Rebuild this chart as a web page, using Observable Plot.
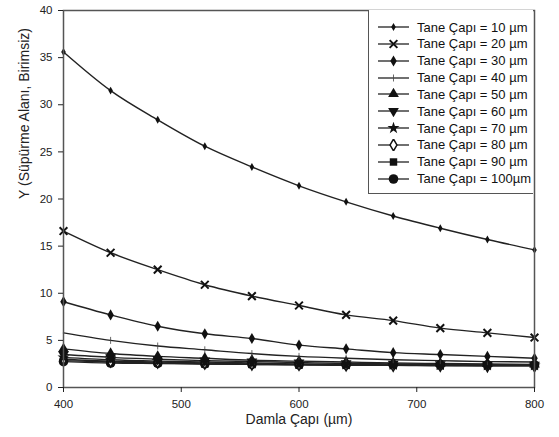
<!DOCTYPE html>
<html><head><meta charset="utf-8">
<script src="https://cdn.jsdelivr.net/npm/d3@7"></script>
<script src="https://cdn.jsdelivr.net/npm/@observablehq/plot@0.6"></script>
<style>
body{margin:0;background:#fff;font-family:"Liberation Sans",Arial,sans-serif;}
#wrap{position:relative;width:559px;height:437px;}
#legend{position:absolute;left:368px;top:10px;width:165px;height:184px;border:1.5px solid #555;border-top:none;border-right:none;background:#fff;box-sizing:border-box;}
.row{position:absolute;left:0;height:14px;display:flex;align-items:center;font-size:13px;color:#111;white-space:nowrap;}
.row svg{margin-left:9px;margin-right:8px;}
</style>
</head><body><div id="wrap"><div id="chart"></div><div id="legend"></div></div>
<script>
const diameters = [400, 440, 480, 520, 560, 600, 640, 680, 720, 760, 800];
const seriesNames = ["10", "20", "30", "40", "50", "60", "70", "80", "90", "100"];
const y10  = [35.6, 31.5, 28.4, 25.6, 23.4, 21.4, 19.7, 18.2, 16.9, 15.7, 14.6];
const y20  = [16.6, 14.3, 12.5, 10.9, 9.7, 8.7, 7.7, 7.1, 6.3, 5.8, 5.3];
const y30  = [9.1, 7.7, 6.5, 5.7, 5.2, 4.5, 4.1, 3.7, 3.5, 3.3, 3.1];
const y40  = [5.8, 5.0, 4.4, 4.0, 3.6, 3.3, 3.1, 2.95, 2.85, 2.75, 2.7];
const y50  = [4.1, 3.6, 3.3, 3.1, 2.9, 2.8, 2.7, 2.6, 2.55, 2.5, 2.45];
const y60  = [3.5, 3.2, 3.0, 2.85, 2.75, 2.65, 2.55, 2.5, 2.45, 2.4, 2.4];
const y70  = [3.2, 2.95, 2.8, 2.7, 2.6, 2.5, 2.45, 2.4, 2.4, 2.35, 2.35];
const y80  = [3.0, 2.8, 2.7, 2.6, 2.5, 2.45, 2.4, 2.35, 2.35, 2.3, 2.3];
const y90  = [2.85, 2.7, 2.6, 2.5, 2.45, 2.4, 2.35, 2.35, 2.3, 2.3, 2.3];
const y100 = [2.75, 2.6, 2.55, 2.5, 2.45, 2.4, 2.4, 2.4, 2.4, 2.4, 2.4];
const yTicks = [0, 5, 10, 15, 20, 25, 30, 35, 40];
const xTicks = [400, 500, 600, 700, 800];
const yLabel = "Y (Süpürme Alanı, Birimsiz)";
const xLabel = "Damla Çapı (µm)";
const allValues = [y10, y20, y30, y40, y50, y60, y70, y80, y90, y100];

const sqrt3 = Math.sqrt(3);
const triangleDown = {draw(ctx, size){const y = -Math.sqrt(size/(sqrt3*3)); ctx.moveTo(0,-y*2); ctx.lineTo(-sqrt3*y, y); ctx.lineTo(sqrt3*y, y); ctx.closePath();}};
const vtick = {draw(ctx, size){const r = Math.sqrt(size/Math.PI); ctx.moveTo(0,-r); ctx.lineTo(0,r);}};

const styles = {
  "10":  {symbol: d3.symbolDiamond, r: 2.4, fill: "#111", stroke: "none", sw: 0},
  "20":  {symbol: d3.symbolTimes, r: 3.6, fill: "none", stroke: "#111", sw: 2},
  "30":  {symbol: d3.symbolDiamond, r: 3.4, fill: "#111", stroke: "none", sw: 0},
  "40":  {symbol: vtick, r: 3.5, fill: "none", stroke: "#444", sw: 0.8},
  "50":  {symbol: d3.symbolTriangle, r: 4, fill: "#111", stroke: "none", sw: 0},
  "60":  {symbol: triangleDown, r: 4, fill: "#111", stroke: "none", sw: 0},
  "70":  {symbol: d3.symbolStar, r: 3.8, fill: "#111", stroke: "none", sw: 0},
  "80":  {symbol: d3.symbolDiamond, r: 3.6, fill: "#fff", stroke: "#111", sw: 1.5},
  "90":  {symbol: d3.symbolSquare, r: 4.2, fill: "#111", stroke: "none", sw: 0},
  "100": {symbol: d3.symbolCircle, r: 4.8, fill: "#111", stroke: "none", sw: 0}
};

const data = [];
seriesNames.forEach((s, i) => diameters.forEach((d, j) => data.push({series: s, x: d, y: allValues[i][j]})));

const dotMarks = seriesNames.slice().reverse().map(s => {
  const st = styles[s];
  return Plot.dot(data.filter(d => d.series === s), {x: "x", y: "y", symbol: () => st.symbol, r: st.r, fill: st.fill, stroke: st.stroke, strokeWidth: st.sw});
});

const chart = Plot.plot({
  width: 559, height: 437,
  marginLeft: 63, marginRight: 25, marginTop: 10, marginBottom: 50,
  style: {fontFamily: "'Liberation Sans', Arial, sans-serif", background: "#fff", color: "#222"},
  x: {domain: [400, 800]},
  y: {domain: [0, 40]},
  symbol: {type: "identity"},
  marks: [
    Plot.line(data, {x: "x", y: "y", z: "series", stroke: "#222", strokeWidth: 1.4, curve: "monotone-x"}),
    ...dotMarks,
    Plot.frame({stroke: "#555", strokeWidth: 1.5}),
    Plot.axisY({ticks: yTicks, tickSize: 5, tickPadding: 6, fontSize: 11.5, label: null}),
    Plot.axisX({ticks: xTicks, tickSize: 5, tickPadding: 7, fontSize: 11.5, label: null}),
    Plot.text([yLabel], {text: d => d, frameAnchor: "left", rotate: -90, dx: -39, fontSize: 14, fill: "#222"}),
    Plot.text([xLabel], {text: d => d, frameAnchor: "bottom", dy: 36, fontSize: 14, fill: "#222"})
  ]
});
document.getElementById("chart").appendChild(chart);

const legend = document.getElementById("legend");
seriesNames.forEach((s, i) => {
  const st = styles[s];
  const row = document.createElement("div");
  row.className = "row";
  row.style.top = (10 + i * 16.85) + "px";
  const size = Math.PI * st.r * st.r;
  const path = d3.symbol(st.symbol, size)();
  row.innerHTML = `<svg width="31" height="12"><line x1="0" x2="31" y1="6" y2="6" stroke="#222" stroke-width="1.3"/><path d="${path}" transform="translate(15.5,6)" fill="${st.fill}" stroke="${st.stroke}" stroke-width="${st.sw}"/></svg><span>Tane Çapı = ${s}${s === "100" ? "" : " "}µm</span>`;
  legend.appendChild(row);
});
</script>
</body></html>
